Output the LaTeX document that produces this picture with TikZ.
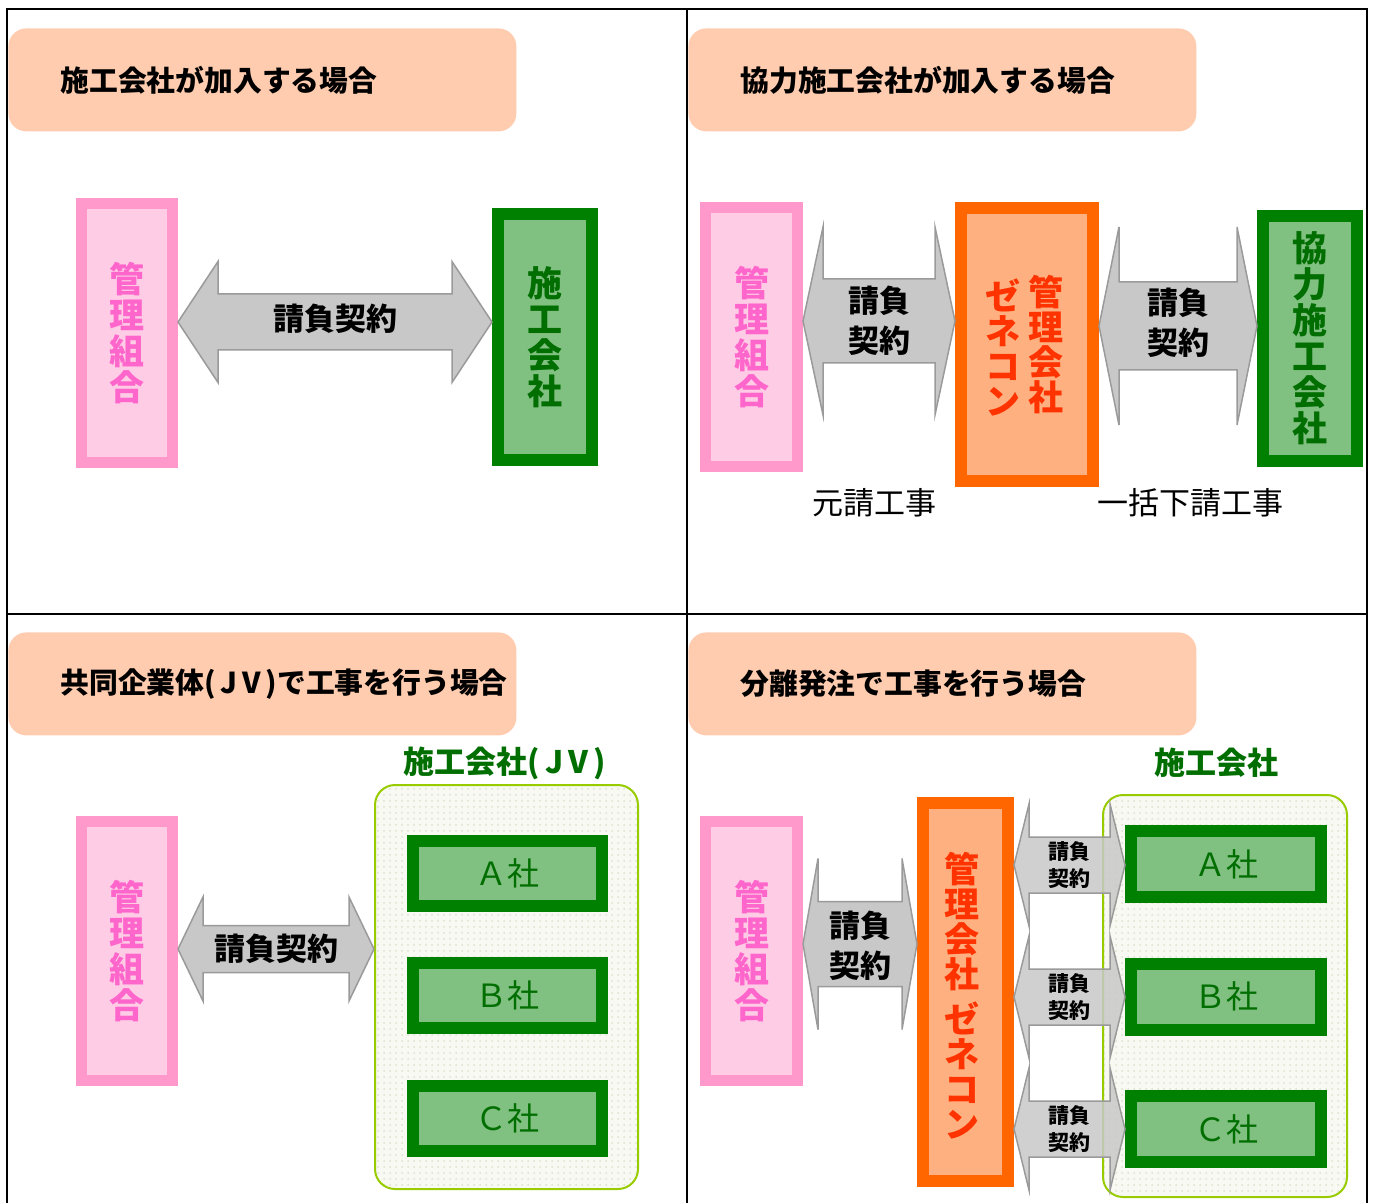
\documentclass[tikz,border=0pt]{standalone}
\usepackage{fontspec}
\setmainfont{Noto Sans CJK JP}
\usepackage{tikz}
\usetikzlibrary{calc,patterns}
\definecolor{peach}{HTML}{FFCCAF}
\definecolor{pinkline}{HTML}{FF99CC}
\definecolor{pinkfill}{HTML}{FFCCE6}
\definecolor{pinktext}{HTML}{FF66CC}
\definecolor{greenline}{HTML}{008000}
\definecolor{greenfill}{HTML}{80C080}
\definecolor{greentext}{HTML}{006E00}
\definecolor{orangeline}{HTML}{FF6600}
\definecolor{orangefill}{HTML}{FFB080}
\definecolor{orangetext}{HTML}{FF3300}
\definecolor{arrowfill}{HTML}{C8C8C8}
\definecolor{arrowline}{HTML}{9A9A9A}
\definecolor{jvline}{HTML}{99CC00}
\definecolor{jvfill}{HTML}{F8F9F2}
\definecolor{jvdots}{HTML}{DCE2CC}
\tikzstyle{frame}=[line width=1pt]
\tikzstyle{titlebox}=[fill=peach,rounded corners=9pt,anchor=north west,minimum height=51.5pt,text width=202pt,inner xsep=26pt,align=left,font=\fontsize{14.4}{17}\selectfont\bfseries]
\tikzstyle{kumiai}=[draw=pinkline,fill=pinkfill,line width=5.5pt,minimum width=45.5pt,minimum height=129.5pt,text=pinktext,align=center,font=\fontsize{17.5}{18}\selectfont\bfseries]
\tikzstyle{sekou}=[draw=greenline,fill=greenfill,line width=6pt,text=greentext,align=center,font=\fontsize{17.5}{18}\selectfont\bfseries]
\tikzstyle{company}=[draw=greenline,fill=greenfill,line width=6pt,minimum width=94.5pt,minimum height=32.5pt,text=greentext,font=\fontsize{16}{18}\selectfont]
\tikzstyle{gene}=[draw=orangeline,fill=orangefill,line width=6pt]
\tikzstyle{genetext}=[text=orangetext,align=center,inner sep=0pt,font=\fontsize{17.5}{17.5}\selectfont\bfseries]
\tikzstyle{jvbox}=[draw=jvline,line width=1pt,rounded corners=10pt,preaction={fill=jvfill},pattern=dots,pattern color=jvdots]
\tikzstyle{jvlabel}=[text=greentext,font=\fontsize{15.5}{18}\selectfont\bfseries]
\tikzstyle{contract}=[draw=arrowline,fill=arrowfill,line width=0.75pt,line join=miter]
\tikzstyle{ktext}=[align=center,inner sep=0pt,font=\fontsize{15.5}{20}\selectfont\bfseries]
\tikzstyle{ktextsmall}=[align=center,inner sep=0pt,font=\fontsize{10.5}{13.5}\selectfont\bfseries]
\tikzstyle{worklabel}=[inner sep=0pt,font=\fontsize{15.5}{18}\selectfont]
% fat two-headed arrow: left tip, right tip, head length, head half, shaft half
\newcommand{\fatarrow}[6][]{%
  \path[contract,#1] (#2) -- ($(#2)+(#4,-#5)$) -- ($(#2)+(#4,-#6)$)
    -- ($(#3)+(-#4,-#6)$) -- ($(#3)+(-#4,-#5)$) -- (#3)
    -- ($(#3)+(-#4,#5)$) -- ($(#3)+(-#4,#6)$)
    -- ($(#2)+(#4,#6)$) -- ($(#2)+(#4,#5)$) -- cycle;}
\newcommand{\jv}{(\,J\,V\,)}

\begin{document}
\begin{tikzpicture}[x=0.5pt,y=-0.5pt]
    \useasboundingbox (0,0) rectangle (1375,1203);
    % Outer frame, four panels
    \draw[frame] (7,1203) -- (7,9) -- (1367,9) -- (1367,1203);
    \draw[frame] (687,9) -- (687,1203);
    \draw[frame] (7,614) -- (1367,614);
    % Panel titles
    \node[titlebox] (title1) at (8,28) {\raisebox{-1.5pt}{施工会社が加入する場合}};
    \node[titlebox] (title2) at (688,28) {\raisebox{-1.5pt}{協力施工会社が加入する場合}};
    \node[titlebox] (title3) at (8,632) {\raisebox{-1.5pt}{共同企業体\jv で工事を行う場合}};
    \node[titlebox] (title4) at (688,632) {\raisebox{-1.5pt}{分離発注で工事を行う場合}};

    % Panel 1
    \node[kumiai] (kumiai1) at (127,333) {管\\理\\組\\合};
    \node[sekou,minimum width=47pt,minimum height=123pt] (sekou1) at (545,337) {施\\工\\会\\社};
    \coordinate (l1) at (kumiai1.east |- 0,322);
    \coordinate (r1) at (sekou1.west |- 0,322);
    \fatarrow{l1}{r1}{40}{60.5}{28}
    \node[ktext] (k1) at ($(l1)!0.5!(r1)+(0,-3)$) {請負契約};

    % Panel 2
    \node[kumiai,minimum width=46pt] (kumiai2) at (751.5,337) {管\\理\\組\\合};
    \node[gene,minimum width=66pt,minimum height=136.5pt] (gene2) at (1027,344.5) {};
    \node[genetext] (gene2a) at (1046,345) {管\\理\\会\\社};
    \node[genetext] (gene2b) at (1003,347) {ゼ\\ネ\\コ\\ン};
    \node[sekou,minimum width=47pt,minimum height=122.5pt] (kyoryoku2) at (1310,338.5) {協\\力\\施\\工\\会\\社};
    \coordinate (l21) at (kumiai2.east |- 0,321);
    \coordinate (r21) at (gene2.west |- 0,321);
    \fatarrow{l21}{r21}{20}{94}{42}
    \node[ktext] (k21) at ($(l21)!0.5!(r21)$) {請負\\契約};
    \coordinate (l22) at (gene2.east |- 0,326);
    \coordinate (r22) at (kyoryoku2.west |- 0,326);
    \fatarrow{l22}{r22}{20}{99}{44}
    \node[ktext] (k22) at ($(l22)!0.5!(r22)+(0,-3)$) {請負\\契約};
    \node[worklabel] (moto2) at (874,503) {元請工事};
    \node[worklabel] (shita2) at (1190,503) {一括下請工事};

    % Panel 3
    \node[kumiai] (kumiai3) at (127,951) {管\\理\\組\\合};
    \node[jvbox,minimum width=131.5pt,minimum height=202pt] (jv3) at (506.5,987) {};
    \node[jvlabel] (jvlabel3) at (505,763) {施工会社\jv};
    \foreach \pos/\name/\txt in {{(507.5,873.5)/A3/Ａ社}, {(507.5,995.5)/B3/Ｂ社}, {(507.5,1118.5)/C3/Ｃ社}}
        \node[company] (\name) at \pos {\txt};
    \coordinate (l3) at (kumiai3.east |- 0,949);
    \coordinate (r3) at (jv3.west |- 0,949);
    \fatarrow{l3}{r3}{25}{52}{23.5}
    \node[ktext] (k3) at ($(l3)!0.5!(r3)$) {請負契約};

    % Panel 4
    \node[kumiai,minimum width=46pt] (kumiai4) at (751.5,951) {管\\理\\組\\合};
    \node[gene,minimum width=42.5pt,minimum height=189pt] (gene4) at (965.5,992) {};
    \node[genetext] (gene4a) at (962,996) {管\\理\\会\\社\\[5pt]ゼ\\ネ\\コ\\ン};
    \node[jvbox,minimum width=122pt,minimum height=201pt] (jv4) at (1225,996) {};
    \node[jvlabel] (jvlabel4) at (1216,763) {施工会社};
    \foreach \pos/\name/\txt in {{(1226,864)/A4/Ａ社}, {(1226,996.5)/B4/Ｂ社}, {(1226,1129)/C4/Ｃ社}}
        \node[company,minimum width=95pt,minimum height=33pt] (\name) at \pos {\txt};
    \coordinate (l4) at (kumiai4.east |- 0,944);
    \coordinate (r4) at (gene4.west |- 0,944);
    \fatarrow{l4}{r4}{15}{85.5}{42.5}
    \node[ktext] (k4) at ($(l4)!0.5!(r4)+(0,2)$) {請負\\契約};
    % Contracts with each company
    \foreach \name/\yy in {A4/865, B4/997, C4/1129}{
        \coordinate (l\name) at (gene4.east |- 0,\yy);
        \coordinate (r\name) at (\name.west |- 0,\yy);
        \fatarrow[fill opacity=0.85]{l\name}{r\name}{15}{61}{28}
        \node[ktextsmall] (k\name) at ($(l\name)!0.5!(r\name)$) {請負\\契約};
    }
\end{tikzpicture}
\end{document}
